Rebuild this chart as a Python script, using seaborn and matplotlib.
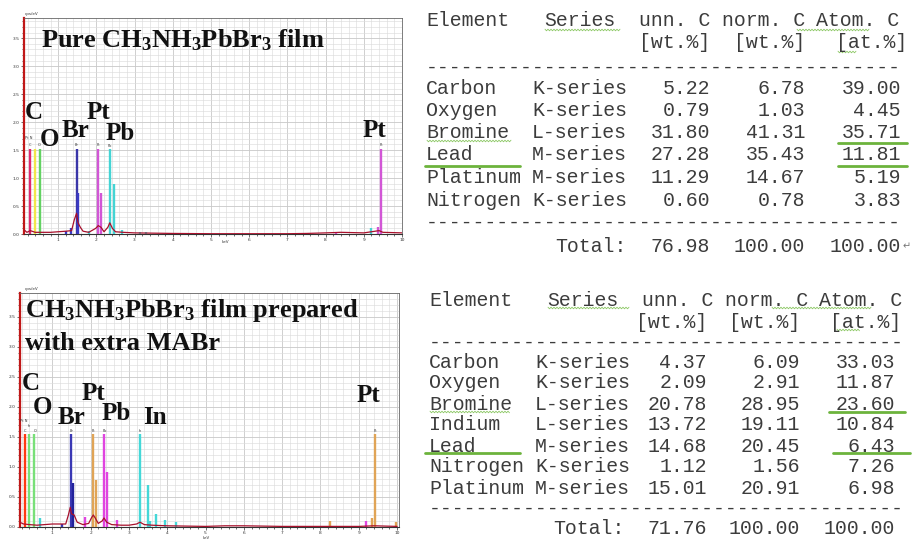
import matplotlib
matplotlib.use("Agg")
import numpy as np
import pandas as pd
import matplotlib.pyplot as plt
import seaborn as sns
from matplotlib.ticker import MultipleLocator, FormatStrFormatter

sns.set_theme(style="white")
plt.rcParams['font.family'] = ['DejaVu Sans']
plt.rcParams['mathtext.fontset'] = 'custom'
plt.rcParams['mathtext.rm'] = 'Liberation Serif:bold'
plt.rcParams['mathtext.it'] = 'Liberation Serif:bold'
plt.rcParams['mathtext.bf'] = 'Liberation Serif:bold'

# ---------------- EDS spectra (keV, cps/eV) ----------------
pure_energy = [0.10, 0.18, 0.27, 0.40, 0.55, 0.80, 1.00, 1.20, 1.35, 1.42, 1.48, 1.52, 1.58,
               1.65, 1.80, 1.98, 2.05, 2.12, 2.20, 2.30, 2.35, 2.42, 2.50, 2.70, 3.00, 3.50,
               4.00, 5.00, 6.00, 7.00, 7.50, 8.00, 8.40, 9.00, 9.40, 9.50, 10.0]
pure_counts = [0.08, 0.03, 0.06, 0.03, 0.03, 0.03, 0.04, 0.05, 0.06, 0.25, 0.37, 0.20, 0.12,
               0.05, 0.03, 0.10, 0.15, 0.12, 0.04, 0.12, 0.20, 0.10, 0.04, 0.03, 0.02, 0.015,
               0.01, 0.005, 0.005, 0.005, 0.01, 0.02, 0.03, 0.02, 0.06, 0.03, 0.02]

extra_energy = [0.15, 0.25, 0.40, 0.60, 0.80, 1.00, 1.20, 1.35, 1.42, 1.47, 1.50, 1.57, 1.65,
                1.80, 1.95, 2.02, 2.07, 2.12, 2.20, 2.30, 2.35, 2.42, 2.55, 2.80, 3.00, 3.20,
                3.29, 3.40, 3.60, 4.00, 5.00, 5.50, 6.00, 7.00, 8.00, 9.00, 9.40, 10.0]
extra_counts = [0.08, 0.05, 0.04, 0.03, 0.04, 0.05, 0.05, 0.05, 0.20, 0.33, 0.22, 0.20, 0.08,
                0.04, 0.06, 0.15, 0.20, 0.15, 0.06, 0.10, 0.15, 0.08, 0.04, 0.03, 0.03, 0.05,
                0.08, 0.04, 0.03, 0.02, 0.01, 0.02, 0.02, 0.01, 0.01, 0.01, 0.02, 0.01]

# element line markers
pure_line_energy = [0.27, 0.39, 0.52, 1.48, 1.53, 2.05, 2.13, 2.35, 2.45, 9.44, 9.36, 9.18, 8.27,
                    1.33, 1.20, 1.80, 2.66, 3.14, 3.30]
pure_line_height = [1.52, 1.52, 1.52, 1.52, 0.73, 1.52, 0.73, 1.52, 0.90, 1.52, 0.12, 0.10, 0.04,
                    0.10, 0.05, 0.05, 0.07, 0.04, 0.04]
pure_line_color = ['#e0286e', '#f2e64a', '#62d262', '#3a36a8', '#3a3ac4', '#d256d6', '#d256d6',
                   '#44d4d4', '#44d4d4', '#d256d6', '#d256d6', '#44d4d4', '#d256d6',
                   '#3a3ac4', '#3a3ac4', '#44d4d4', '#44d4d4', '#44d4d4', '#44d4d4']

extra_line_energy = [0.28, 0.39, 0.53, 0.68, 1.50, 1.54, 1.25, 2.07, 2.14, 2.35, 2.44, 1.85,
                     2.68, 3.29, 3.49, 3.55, 3.72, 3.93, 4.22, 9.42, 9.35, 9.18, 8.25, 9.98]
extra_line_height = [1.55, 1.55, 1.55, 0.15, 1.55, 0.73, 0.05, 1.55, 0.78, 1.55, 0.92, 0.17,
                     0.12, 1.55, 0.70, 0.10, 0.22, 0.12, 0.08, 1.55, 0.15, 0.10, 0.10, 0.08]
extra_line_color = ['#ff3a12', '#78e078', '#78e078', '#44d4d4', '#3a38b4', '#22229a', '#3a38b4',
                    '#e0a456', '#e0a456', '#e044e0', '#e044e0', '#e044e0', '#e044e0',
                    '#44d8d8', '#44d8d8', '#44d8d8', '#44d8d8', '#44d8d8', '#44d8d8',
                    '#e0a456', '#e0a456', '#e044e0', '#e0a456', '#e0a456']

# ---------------- quantification tables ----------------
pure_elements = ['Carbon', 'Oxygen', 'Bromine', 'Lead', 'Platinum', 'Nitrogen']
pure_series = ['K-series', 'K-series', 'L-series', 'M-series', 'M-series', 'K-series']
pure_unn = ['5.22', '0.79', '31.80', '27.28', '11.29', '0.60']
pure_norm = ['6.78', '1.03', '41.31', '35.43', '14.67', '0.78']
pure_atom = ['39.00', '4.45', '35.71', '11.81', '5.19', '3.83']
pure_total = ['76.98', '100.00', '100.00']

extra_elements = ['Carbon', 'Oxygen', 'Bromine', 'Indium', 'Lead', 'Nitrogen', 'Platinum']
extra_series = ['K-series', 'K-series', 'L-series', 'L-series', 'M-series', 'K-series', 'M-series']
extra_unn = ['4.37', '2.09', '20.78', '13.72', '14.68', '1.12', '15.01']
extra_norm = ['6.09', '2.91', '28.95', '19.11', '20.45', '1.56', '20.91']
extra_atom = ['33.03', '11.87', '23.60', '10.84', '6.43', '7.26', '6.98']
extra_total = ['71.76', '100.00', '100.00']

W, H = 913, 540
fig = plt.figure(figsize=(W / 100, H / 100), dpi=100)
fig.patch.set_facecolor('white')


def px_axes(l, t, r, b):
    return fig.add_axes([l / W, 1 - b / H, (r - l) / W, (b - t) / H])


def spectrum_panel(ax, energy, counts, le, lh, lc, xlim, ylim):
    df = pd.DataFrame({'keV': energy, 'cps': counts})
    ax.vlines(le, 0, lh, colors=lc, linewidth=1.7, zorder=3)
    sns.lineplot(data=df, x='keV', y='cps', ax=ax, color='#a8102c', linewidth=0.9, zorder=4)
    ax.set_xlim(*xlim)
    ax.set_ylim(*ylim)
    ax.set_xlabel('')
    ax.set_ylabel('')
    ax.xaxis.set_major_locator(MultipleLocator(1))
    ax.xaxis.set_minor_locator(MultipleLocator(0.2))
    ax.yaxis.set_major_locator(MultipleLocator(0.5))
    ax.yaxis.set_minor_locator(MultipleLocator(0.1))
    ax.yaxis.set_major_formatter(FormatStrFormatter('%.1f'))
    ax.xaxis.set_major_formatter(FormatStrFormatter('%d'))
    ax.grid(which='major', color='#c8c8c8', linewidth=0.6)
    ax.grid(which='minor', color='#dcdcdc', linewidth=0.45)
    ax.tick_params(which='both', direction='out', labelsize=3.2, colors='#333333',
                   length=2, width=0.5, pad=1.2, bottom=True, left=True)
    ax.tick_params(which='minor', length=1.2)
    for s in ['top', 'right']:
        ax.spines[s].set_color('#666666')
        ax.spines[s].set_linewidth(0.6)
    ax.spines['bottom'].set_color('#333333')
    ax.spines['bottom'].set_linewidth(0.8)
    ax.spines['left'].set_color('#c01818')
    ax.spines['left'].set_linewidth(1.6)
    ax.set_facecolor('white')


ax1 = px_axes(24, 18, 402, 234)
spectrum_panel(ax1, pure_energy, pure_counts, pure_line_energy, pure_line_height,
               pure_line_color, (0.105, 10.0), (0, 3.86))
ax2 = px_axes(20, 293, 399, 527)
spectrum_panel(ax2, extra_energy, extra_counts, extra_line_energy, extra_line_height,
               extra_line_color, (0.157, 10.05), (0, 3.9))

# overlay in pixel coordinates for annotations and tables
ov = fig.add_axes([0, 0, 1, 1], zorder=10)
ov.set_xlim(0, W)
ov.set_ylim(H, 0)
ov.axis('off')
ov.patch.set_alpha(0)

# axis captions
ov.text(25, 14, 'cps/eV', fontsize=3, color='#333333', va='center')
ov.text(25, 289, 'cps/eV', fontsize=3, color='#333333', va='center')
ov.text(225, 242, 'keV', fontsize=3, color='#333333', ha='center', va='center')
ov.text(206, 538.2, 'keV', fontsize=2.8, color='#333333', ha='center', va='center')

serif = dict(family='Liberation Serif', weight='bold', color='#111111')
ov.text(41, 47, r'Pure CH$_3$NH$_3$PbBr$_3$ film', fontsize=19, va='baseline', **serif)
ov.text(25, 317, r'CH$_3$NH$_3$PbBr$_3$ film prepared', fontsize=19, va='baseline', **serif)
ov.text(25, 350, 'with extra MABr', fontsize=19, va='baseline', **serif)

peak_labels_top = [('C', 25, 119), ('O', 40, 146), ('Br', 62, 137), ('Pt', 87, 119),
                   ('Pb', 106, 140), ('Pt', 363, 137)]
peak_labels_bot = [('C', 22, 390), ('O', 33, 414), ('Br', 58, 424), ('Pt', 82, 400),
                   ('Pb', 102, 420), ('In', 143, 424), ('Pt', 357, 402)]
for s, x, y in peak_labels_top + peak_labels_bot:
    ov.text(x, y, s, fontsize=18, va='baseline', ha='left', **serif)

# tiny line tags above the markers
tags_top = [('Pt N', 29, 138), ('C', 30, 145), ('O', 39, 145), ('Br', 77, 145), ('Pt', 98, 145),
            ('Pb', 110, 146), ('Pt', 381, 145)]
tags_bot = [('Pt N', 24, 421), ('In', 29, 426), ('C', 25, 431), ('O', 35, 431), ('Br', 72, 431),
            ('Pt', 93, 431), ('Pb', 105, 431), ('In', 140, 431), ('Pt', 375, 431)]
for s, x, y in tags_top + tags_bot:
    ov.text(x, y, s, fontsize=2.5, ha='center', va='center', color='#333333')

mono = dict(family=['Liberation Mono', 'DejaVu Sans Mono'], fontsize=14.3, color='#3c3c3c')
green = '#6cb33c'


def squiggle(x0, x1, y):
    xs = np.arange(x0, x1 + 0.1, 1.5)
    ys = y + np.where(np.arange(len(xs)) % 2 == 0, -0.8, 0.8)
    ov.plot(xs, ys, color='#8cc864', linewidth=0.6)


def table(rows_y, head_y, dash_y, total_y, els, ser, unn, norm, atom, total, cols):
    x_el, x_ser, x_unn, x_norm, x_atom = cols
    ov.text(x_el, head_y[0], 'Element', va='center', **mono)
    ov.text(x_el + 118, head_y[0], 'Series', va='center', **mono)
    ov.text(x_el + 213, head_y[0], 'unn. C', va='center', **mono)
    ov.text(x_el + 296, head_y[0], 'norm. C', va='center', **mono)
    ov.text(x_el + 390, head_y[0], 'Atom. C', va='center', **mono)
    ov.text(x_unn, head_y[1], '[wt.%]', va='center', ha='right', **mono)
    ov.text(x_norm, head_y[1], '[wt.%]', va='center', ha='right', **mono)
    ov.text(x_atom + 6, head_y[1], '[at.%]', va='center', ha='right', **mono)
    for y in dash_y:
        ov.text(x_el, y, '-' * 40, va='center', **mono)
    for i, y in enumerate(rows_y):
        ov.text(x_el, y, els[i], va='center', **mono)
        ov.text(x_ser, y, ser[i], va='center', **mono)
        ov.text(x_unn, y, unn[i], va='center', ha='right', **mono)
        ov.text(x_norm, y, norm[i], va='center', ha='right', **mono)
        ov.text(x_atom, y, atom[i], va='center', ha='right', **mono)
    ov.text(x_unn - 83, total_y, 'Total:', va='center', ha='right', **mono)
    ov.text(x_unn, total_y, total[0], va='center', ha='right', **mono)
    ov.text(x_norm, total_y, total[1], va='center', ha='right', **mono)
    ov.text(x_atom, total_y, total[2], va='center', ha='right', **mono)


table([88, 110.5, 133, 155, 177.5, 200], (21, 43), (67, 222), 246,
      pure_elements, pure_series, pure_unn, pure_norm, pure_atom, pure_total,
      (426, 532, 710, 805, 901))
ov.text(903, 246, '\u21b5', fontsize=7, color='#777777', va='center',
        family=['DejaVu Sans'])
# underlines, top table
ov.plot([425, 520], [166, 166], color=green, linewidth=2.0)
ov.plot([838, 907], [143, 143], color=green, linewidth=2.0)
ov.plot([838, 907], [166, 166], color=green, linewidth=2.0)
squiggle(545, 620, 30)
squiggle(797, 870, 30)
squiggle(838, 856, 52)
squiggle(427, 512, 141)

table([362, 383, 404, 425, 446, 467, 488], (300, 322), (342, 508), 529,
      extra_elements, extra_series, extra_unn, extra_norm, extra_atom, extra_total,
      (429, 535, 707, 800, 895))
# underlines, bottom table
ov.plot([425, 520], [453, 453], color=green, linewidth=2.0)
ov.plot([829, 905], [412, 412], color=green, linewidth=2.0)
ov.plot([833, 910], [453, 453], color=green, linewidth=2.0)
squiggle(548, 630, 308)
squiggle(772, 872, 308)
squiggle(837, 860, 330)
squiggle(430, 510, 412)

fig.savefig('out.png', dpi=100, facecolor='white')
